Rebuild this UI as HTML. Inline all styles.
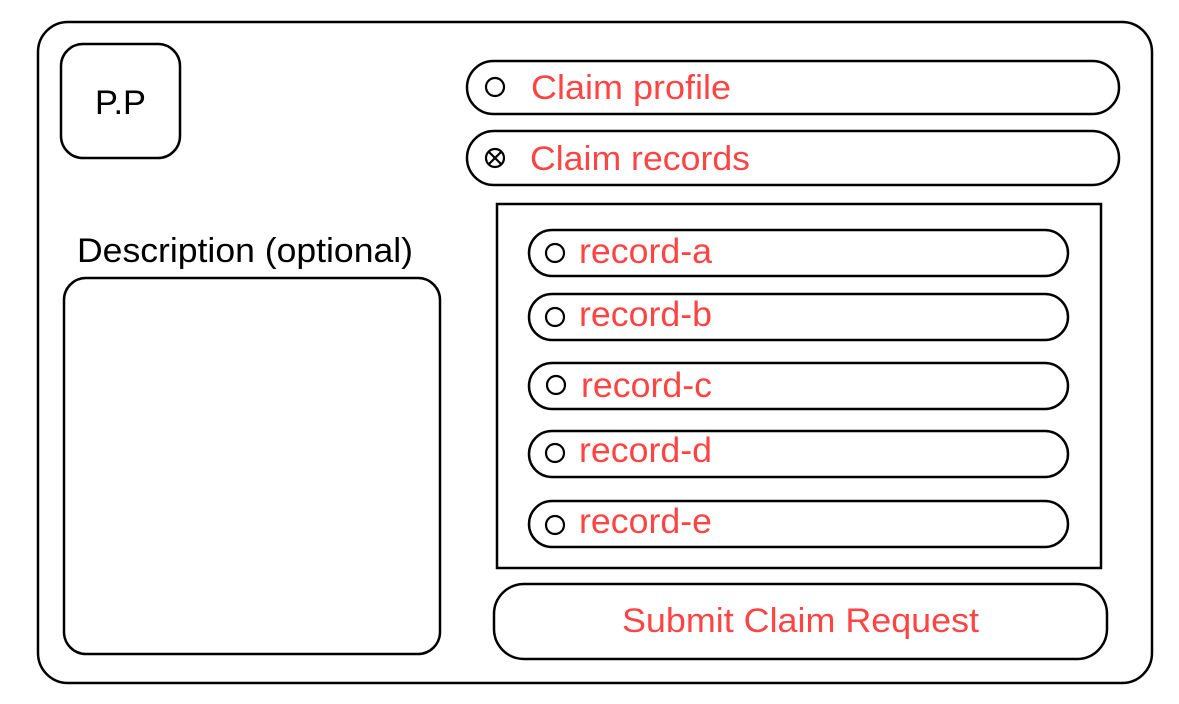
<!DOCTYPE html>
<html><head><style>html,body{margin:0;padding:0;background:#fff}svg{display:block}</style></head><body>
<svg width="1179" height="704" viewBox="0 0 1179 704" xmlns="http://www.w3.org/2000/svg" font-family="Liberation Sans, Arial, sans-serif">
<g fill="none" stroke="#000" stroke-width="2.5">
<rect x="38" y="22" width="1114" height="661" rx="30"/>
<rect x="61" y="44" width="119" height="114" rx="22"/>
<rect x="64" y="278" width="376" height="376" rx="22"/>
<rect x="467" y="61" width="652" height="53" rx="26.5"/>
<rect x="467" y="131" width="652" height="54" rx="27"/>
<rect x="497" y="204" width="604" height="364"/>
<rect x="529" y="230" width="539" height="46" rx="23"/>
<rect x="529" y="294" width="539" height="46" rx="23"/>
<rect x="529" y="363" width="539" height="46" rx="23"/>
<rect x="529" y="431" width="539" height="46" rx="23"/>
<rect x="529" y="501" width="539" height="46" rx="23"/>
<rect x="494" y="584" width="613" height="75" rx="30"/>
<g stroke-width="2.2">
<circle cx="495" cy="87" r="9"/>
<circle cx="495" cy="158" r="9"/>
<path d="M489 152 L501 164 M501 152 L489 164"/>
<circle cx="555" cy="253" r="9"/>
<circle cx="555" cy="317" r="9"/>
<circle cx="556" cy="385" r="9"/>
<circle cx="555" cy="453" r="9"/>
<circle cx="555" cy="525" r="9"/>
</g>
</g>
<g font-size="34" fill="#000">
<text x="95" y="114" textLength="51" lengthAdjust="spacingAndGlyphs">P.P</text>
<text x="77" y="262" textLength="336" lengthAdjust="spacingAndGlyphs">Description (optional)</text>
</g>
<g fill="#ff4444" font-size="34">
<text x="531" y="99" textLength="200" lengthAdjust="spacingAndGlyphs">Claim profile</text>
<text x="530" y="170" textLength="220" lengthAdjust="spacingAndGlyphs">Claim records</text>
<text x="622" y="632" textLength="357" lengthAdjust="spacingAndGlyphs">Submit Claim Request</text>
</g>
<g fill="#ff4444" font-size="35">
<text x="579" y="263" textLength="133" lengthAdjust="spacingAndGlyphs">record-a</text>
<text x="579" y="326" textLength="133" lengthAdjust="spacingAndGlyphs">record-b</text>
<text x="581" y="397" textLength="131" lengthAdjust="spacingAndGlyphs">record-c</text>
<text x="579" y="462" textLength="133" lengthAdjust="spacingAndGlyphs">record-d</text>
<text x="579" y="533" textLength="133" lengthAdjust="spacingAndGlyphs">record-e</text>
</g>
</svg>
</body></html>
